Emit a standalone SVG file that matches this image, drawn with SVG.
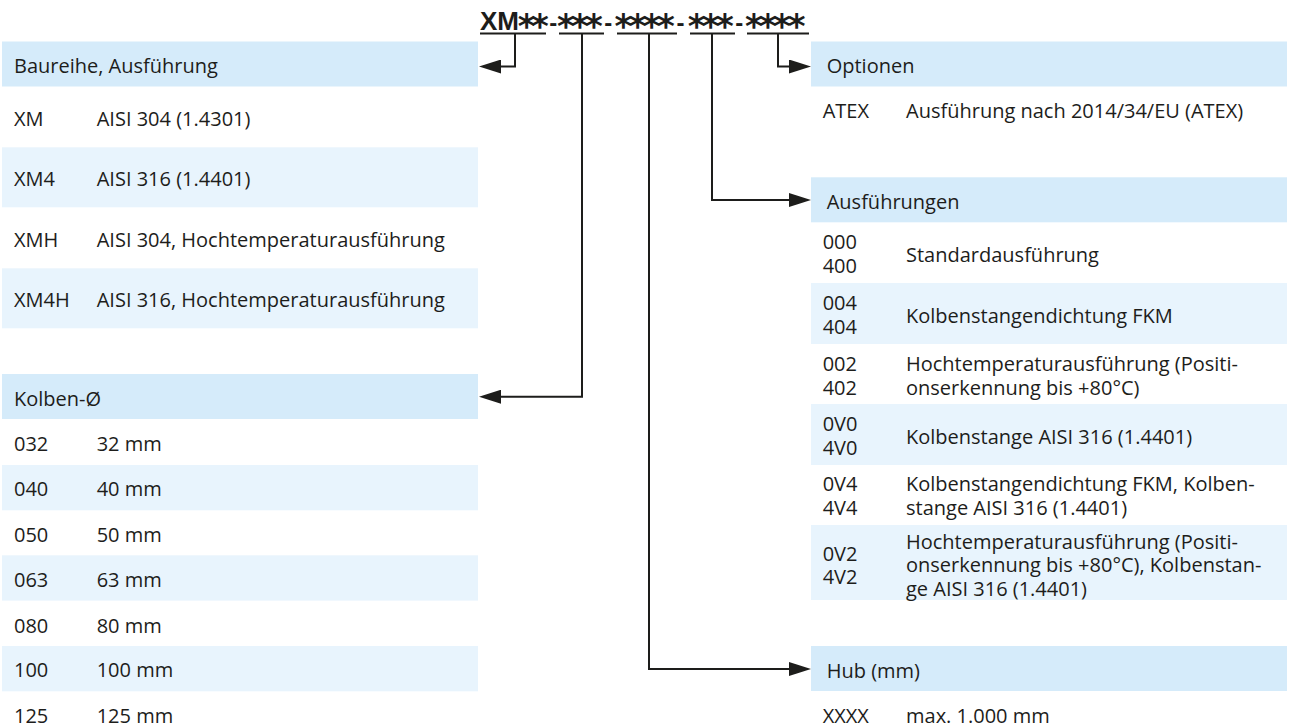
<svg xmlns="http://www.w3.org/2000/svg" width="1295" height="727" viewBox="0 0 1295 727">
<defs>
<style>
.t{font-family:"Open Sans","Liberation Sans",sans-serif;font-size:20px;fill:#1d1d1b}
.hd{fill:#d5ebfa}
.rw{fill:#e8f4fd}
.cn{fill:none;stroke:#1d1d1b;stroke-width:2}
.ul{stroke:#1d1d1b;stroke-width:2}
.code{font-family:"Liberation Sans",Arial,sans-serif;font-weight:bold;fill:#1d1d1b}
.a{font-family:"DejaVu Sans",sans-serif;font-size:34px;text-anchor:middle}
.h{font-size:24px;text-anchor:middle}
</style>
<marker id="ah" markerUnits="userSpaceOnUse" markerWidth="22" markerHeight="14" refX="12" refY="7" orient="auto" viewBox="0 0 22 14">
<path d="M0,0 L22,7 L0,14 z" fill="#1d1d1b"/>
</marker>
</defs>
<rect width="1295" height="727" fill="#ffffff"/>

<g id="code">
<text class="code"><tspan x="480" y="29.5" font-size="26">XM</tspan><tspan class="a" x="526.7 540" y="37.5">**</tspan><tspan class="h" x="553.3" y="30.5">-</tspan><tspan class="a" x="566 580 594" y="37.5">***</tspan><tspan class="h" x="608.3" y="30.5">-</tspan><tspan class="a" x="623.3 637.7 651.7 666" y="37.5">****</tspan><tspan class="h" x="680.5" y="30.5">-</tspan><tspan class="a" x="696.7 710.7 725" y="37.5">***</tspan><tspan class="h" x="739.3" y="30.5">-</tspan><tspan class="a" x="754 768 782 796.7" y="37.5">****</tspan></text>
<line class="ul" x1="480" y1="33.5" x2="546" y2="33.5"/>
<line class="ul" x1="559" y1="33.5" x2="604" y2="33.5"/>
<line class="ul" x1="617" y1="33.5" x2="677" y2="33.5"/>
<line class="ul" x1="690" y1="33.5" x2="735" y2="33.5"/>
<line class="ul" x1="747" y1="33.5" x2="809" y2="33.5"/>
</g>

<g id="baureihe">
<rect class="hd" x="2" y="41.5" width="476" height="45"/>
<text class="t" x="14" y="72.7">Baureihe, Ausführung</text>
<text class="t" x="14" y="126">XM</text><text class="t" x="96.7" y="126">AISI 304 (1.4301)</text>
<rect class="rw" x="2" y="147.3" width="476" height="60"/>
<text class="t" x="14" y="186">XM4</text><text class="t" x="96.7" y="186">AISI 316 (1.4401)</text>
<text class="t" x="14" y="246.7">XMH</text><text class="t" x="96.7" y="246.7">AISI 304, Hochtemperaturausführung</text>
<rect class="rw" x="2" y="268.3" width="476" height="60"/>
<text class="t" x="14" y="306.7">XM4H</text><text class="t" x="96.7" y="306.7">AISI 316, Hochtemperaturausführung</text>
</g>

<g id="kolben">
<rect class="hd" x="2" y="374" width="476" height="45"/>
<text class="t" x="14" y="405.7">Kolben-Ø</text>
<text class="t" x="14" y="450.7">032</text><text class="t" x="96.7" y="450.7">32 mm</text>
<rect class="rw" x="2" y="465" width="476" height="45.3"/>
<text class="t" x="14" y="496">040</text><text class="t" x="96.7" y="496">40 mm</text>
<text class="t" x="14" y="541.7">050</text><text class="t" x="96.7" y="541.7">50 mm</text>
<rect class="rw" x="2" y="555.3" width="476" height="45.3"/>
<text class="t" x="14" y="586.7">063</text><text class="t" x="96.7" y="586.7">63 mm</text>
<text class="t" x="14" y="632.7">080</text><text class="t" x="96.7" y="632.7">80 mm</text>
<rect class="rw" x="2" y="646" width="476" height="45.3"/>
<text class="t" x="14" y="677.3">100</text><text class="t" x="96.7" y="677.3">100 mm</text>
<text class="t" x="14" y="722.7">125</text><text class="t" x="96.7" y="722.7">125 mm</text>
</g>

<g id="optionen">
<rect class="hd" x="811" y="41.5" width="476" height="45"/>
<text class="t" x="826.7" y="72.7">Optionen</text>
<text class="t" x="822.7" y="118.3">ATEX</text><text class="t" x="906" y="118.3">Ausführung nach 2014/34/EU (ATEX)</text>
</g>

<g id="ausfuehrungen">
<rect class="hd" x="811" y="177.3" width="476" height="45"/>
<text class="t" x="826.7" y="209">Ausführungen</text>
<text class="t"><tspan x="822.7" y="249.3">000</tspan><tspan x="822.7" y="272.8">400</tspan></text>
<text class="t" x="906" y="261.8">Standardausführung</text>
<rect class="rw" x="811" y="283" width="476" height="61"/>
<text class="t"><tspan x="822.7" y="310">004</tspan><tspan x="822.7" y="333.5">404</tspan></text>
<text class="t" x="906" y="322.5">Kolbenstangendichtung FKM</text>
<text class="t"><tspan x="822.7" y="371">002</tspan><tspan x="822.7" y="394.5">402</tspan></text>
<text class="t"><tspan x="906" y="371">Hochtemperaturausführung (Positi-</tspan><tspan x="906" y="394.5">onserkennung bis +80°C)</tspan></text>
<rect class="rw" x="811" y="404" width="476" height="61"/>
<text class="t"><tspan x="822.7" y="431">0V0</tspan><tspan x="822.7" y="454.5">4V0</tspan></text>
<text class="t" x="906" y="443.5">Kolbenstange AISI 316 (1.4401)</text>
<text class="t"><tspan x="822.7" y="491">0V4</tspan><tspan x="822.7" y="514.5">4V4</tspan></text>
<text class="t"><tspan x="906" y="491">Kolbenstangendichtung FKM, Kolben-</tspan><tspan x="906" y="514.5">stange AISI 316 (1.4401)</tspan></text>
<rect class="rw" x="811" y="525" width="476" height="75"/>
<text class="t"><tspan x="822.7" y="560.5">0V2</tspan><tspan x="822.7" y="584">4V2</tspan></text>
<text class="t"><tspan x="906" y="548.5">Hochtemperaturausführung (Positi-</tspan><tspan x="906" y="572">onserkennung bis +80°C), Kolbenstan-</tspan><tspan x="906" y="595.5">ge AISI 316 (1.4401)</tspan></text>
</g>

<g id="hub">
<rect class="hd" x="811" y="646" width="476" height="45"/>
<text class="t" x="826.7" y="678">Hub (mm)</text>
<text class="t" x="822.7" y="723">XXXX</text><text class="t" x="906" y="723">max. 1.000 mm</text>
</g>

<g id="connectors">
<path class="cn" d="M515,34 V66.5 H489" marker-end="url(#ah)"/>
<path class="cn" d="M582,34 V396.7 H489" marker-end="url(#ah)"/>
<path class="cn" d="M649,34 V669 H801" marker-end="url(#ah)"/>
<path class="cn" d="M712,34 V200 H801" marker-end="url(#ah)"/>
<path class="cn" d="M778,34 V66.5 H801" marker-end="url(#ah)"/>
</g>
</svg>
